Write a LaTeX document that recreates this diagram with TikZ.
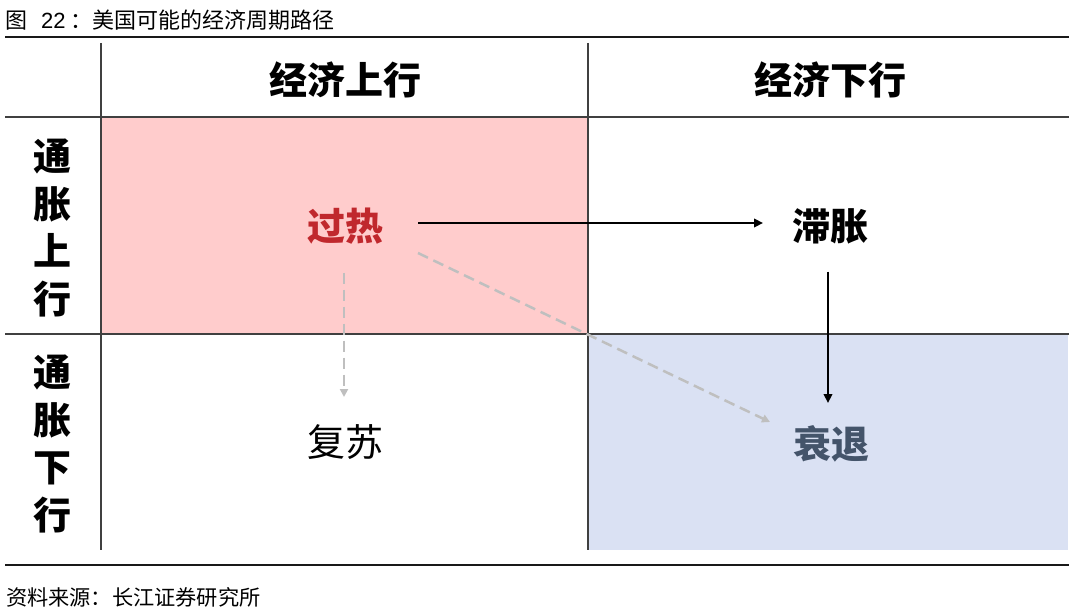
\documentclass[tikz,border=0pt]{standalone}
\usepackage{fontspec}
\setmainfont{Noto Sans CJK SC}
\newfontfamily\cjk{Noto Sans CJK SC}
\newfontfamily\arial{Liberation Sans}
\usetikzlibrary{arrows.meta,calc}
\definecolor{pinkfill}{HTML}{FFCCCC}
\definecolor{bluefill}{HTML}{DAE1F3}
\definecolor{hotred}{HTML}{C0282D}
\definecolor{slate}{HTML}{44546A}
\definecolor{gridc}{HTML}{404040}
\definecolor{dashc}{HTML}{BFBFBF}
\tikzset{
  rulel/.style={draw=black!90, line width=1.8pt},
  gridl/.style={draw=gridc, line width=1.3pt},
  captext/.style={inner sep=0pt, anchor=west, font=\cjk\fontsize{22}{26}\selectfont},
  hdr/.style={inner sep=0pt, font=\cjk\bfseries\fontsize{38}{44}\selectfont},
  rowlab/.style={inner sep=0pt, align=center, font=\cjk\bfseries\fontsize{38}{47.6}\selectfont},
  cell/.style={inner sep=0pt, font=\cjk\bfseries\fontsize{38}{44}\selectfont},
  cellplain/.style={inner sep=0pt, font=\cjk\fontsize{38}{44}\selectfont},
  solidarrow/.style={draw=black, line width=2.3pt, -{Triangle[length=9pt,width=8.5pt]}},
  dasharrow/.style={draw=dashc, line width=2.5pt, dash pattern=on 11pt off 6pt, -{Triangle[length=8pt,width=8pt]}}
}
\begin{document}
\begin{tikzpicture}[x=1pt,y=-1pt]
\useasboundingbox (0,0) rectangle (1080,615);
% fills
\fill[pinkfill] (101,117) rectangle (588,334);
\fill[bluefill] (588,334) rectangle (1068,550);
% rules and grid
\draw[rulel] (5,37) -- (1069,37);
\draw[gridl] (5,117) -- (1069,117);
\draw[gridl] (5,334) -- (1069,334);
\draw[gridl] (101,43) -- (101,550);
\draw[gridl] (588,43) -- (588,550);
\draw[rulel] (5,565) -- (1069,565);
% captions
\node[captext] (title) at (5,20) {图\hspace{14pt}{\arial 22}\hspace{5pt}：美国可能的经济周期路径};
\node[captext, font=\cjk\fontsize{21.2}{24}\selectfont] (src) at (6,597) {资料来源：长江证券研究所};
% headers
\node[hdr] (h1) at (345,80) {经济上行};
\node[hdr] (h2) at (830,80) {经济下行};
\node[rowlab] (r1) at (53,228) {通\\胀\\上\\行};
\node[rowlab] (r2) at (53,444) {通\\胀\\下\\行};
% cells
\node[cell, text=hotred] (gr) at (345,226.5) {过热};
\node[cell, text=black] (zz) at (830.5,226.5) {滞胀};
\node[cellplain, text=black] (fs) at (345,442) {复苏};
\node[cell, text=slate] (st) at (831,444) {衰退};
% arrows
\draw[solidarrow] ($(gr.center)+(73,-3.5)$) -- ($(zz.center)+(-67.5,-3.5)$);
\draw[solidarrow] ($(zz.center)+(-2.5,45)$) -- ($(st.center)+(-3,-41)$);
\draw[dasharrow] ($(gr.center)+(-1,46)$) -- ($(fs.center)+(-1,-45)$);
\draw[dasharrow] ($(gr.center)+(73,26.5)$) -- ($(st.center)+(-61,-22)$);
\end{tikzpicture}
\end{document}
